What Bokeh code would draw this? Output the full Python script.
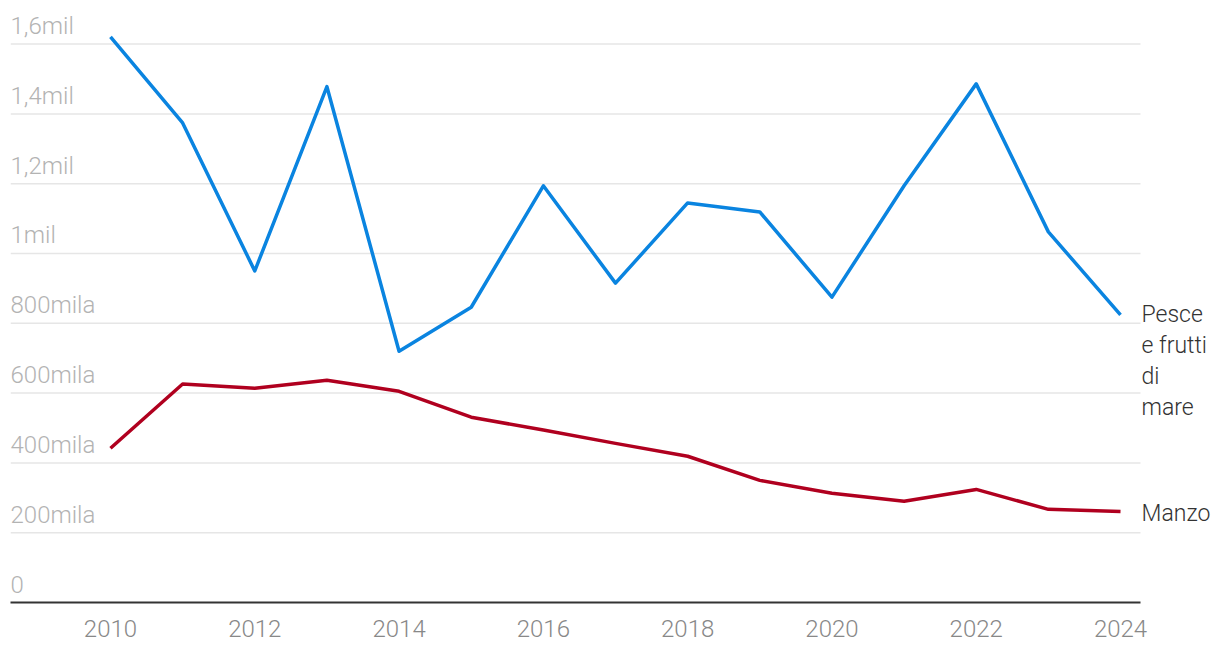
from bokeh.plotting import figure
from bokeh.models import Range1d, FixedTicker, ColumnDataSource
from bokeh.core.properties import value
from bokeh.embed import file_html
from bokeh.resources import INLINE

years = list(range(2010, 2025))
pesce = [1621000, 1374000, 950000, 1478000, 720000, 846000, 1194000, 915000,
         1145000, 1119000, 875000, 1194000, 1486000, 1062000, 824000]
manzo = [442000, 626000, 614000, 637000, 605000, 531000, 494000, 456000,
         419000, 350000, 313000, 290000, 324000, 267000, 261000]
y_ticks = [0, 200000, 400000, 600000, 800000, 1000000, 1200000, 1400000, 1600000]
y_tick_labels = ["0", "200mila", "400mila", "600mila", "800mila", "1mil", "1,2mil", "1,4mil", "1,6mil"]
x_ticks = [2010, 2012, 2014, 2016, 2018, 2020, 2022, 2024]
series_names = ["Pesce\ne frutti\ndi\nmare", "Manzo"]

FONT = "Roboto Light"
BLUE = "#0a84e0"
RED = "#b0001f"

X0, X1 = 2008.614, 2024.277   # extent of the plotting area (grid/axis)
p = figure(width=1212, height=650, output_backend="svg", toolbar_location=None,
           x_range=Range1d(X0, 2025.275), y_range=Range1d(0, 1702000),
           min_border_left=10, min_border_right=0, min_border_top=8, min_border_bottom=48,
           outline_line_color=None)
p.background_fill_color = "white"
p.border_fill_color = "white"

p.xgrid.grid_line_color = None
p.ygrid.grid_line_color = None
p.segment(x0=[X0] * 8, x1=[X1] * 8, y0=y_ticks[1:], y1=y_ticks[1:],
          line_color="#e6e6e6", line_width=1.5)

p.yaxis.visible = False
p.xaxis.ticker = FixedTicker(ticks=x_ticks)
p.xaxis.bounds = (X0, X1)
p.xaxis.axis_line_color = "#333333"
p.xaxis.axis_line_width = 2
p.xaxis.major_tick_line_color = None
p.xaxis.minor_tick_line_color = None
p.xaxis.major_label_text_font = FONT
p.xaxis.major_label_text_font_size = "24px"
p.xaxis.major_label_text_color = "#888888"
p.xaxis.major_label_standoff = 11

# y tick labels inside the plot
src = ColumnDataSource(dict(x=[X0] * len(y_ticks), y=y_ticks, t=y_tick_labels))
p.text(x="x", y="y", text="t", source=src, text_font=value(FONT), text_font_size="24px",
       text_color="#b3b3b3", text_baseline="alphabetic", text_align="left",
       x_offset=0, y_offset=-18)

p.line(years, pesce, line_color=BLUE, line_width=3.5, line_join="round")
p.line(years, manzo, line_color=RED, line_width=3.5, line_join="round")

# series labels
lines = series_names[0].split("\n")
n = len(lines)
p.text(x=[years[-1]] * n, y=[pesce[-1]] * n, text=lines,
       x_offset=21, y_offset=[i * 31 for i in range(n)],
       text_font=value(FONT), text_font_size="23px", text_color="#333333",
       text_baseline="middle", text_align="left")
p.text(x=[years[-1]], y=[manzo[-1]], text=[series_names[1]], x_offset=21, y_offset=2,
       text_font=value(FONT), text_font_size="23px", text_color="#333333",
       text_baseline="middle", text_align="left")

open("out.html", "w").write(file_html(p, INLINE))
